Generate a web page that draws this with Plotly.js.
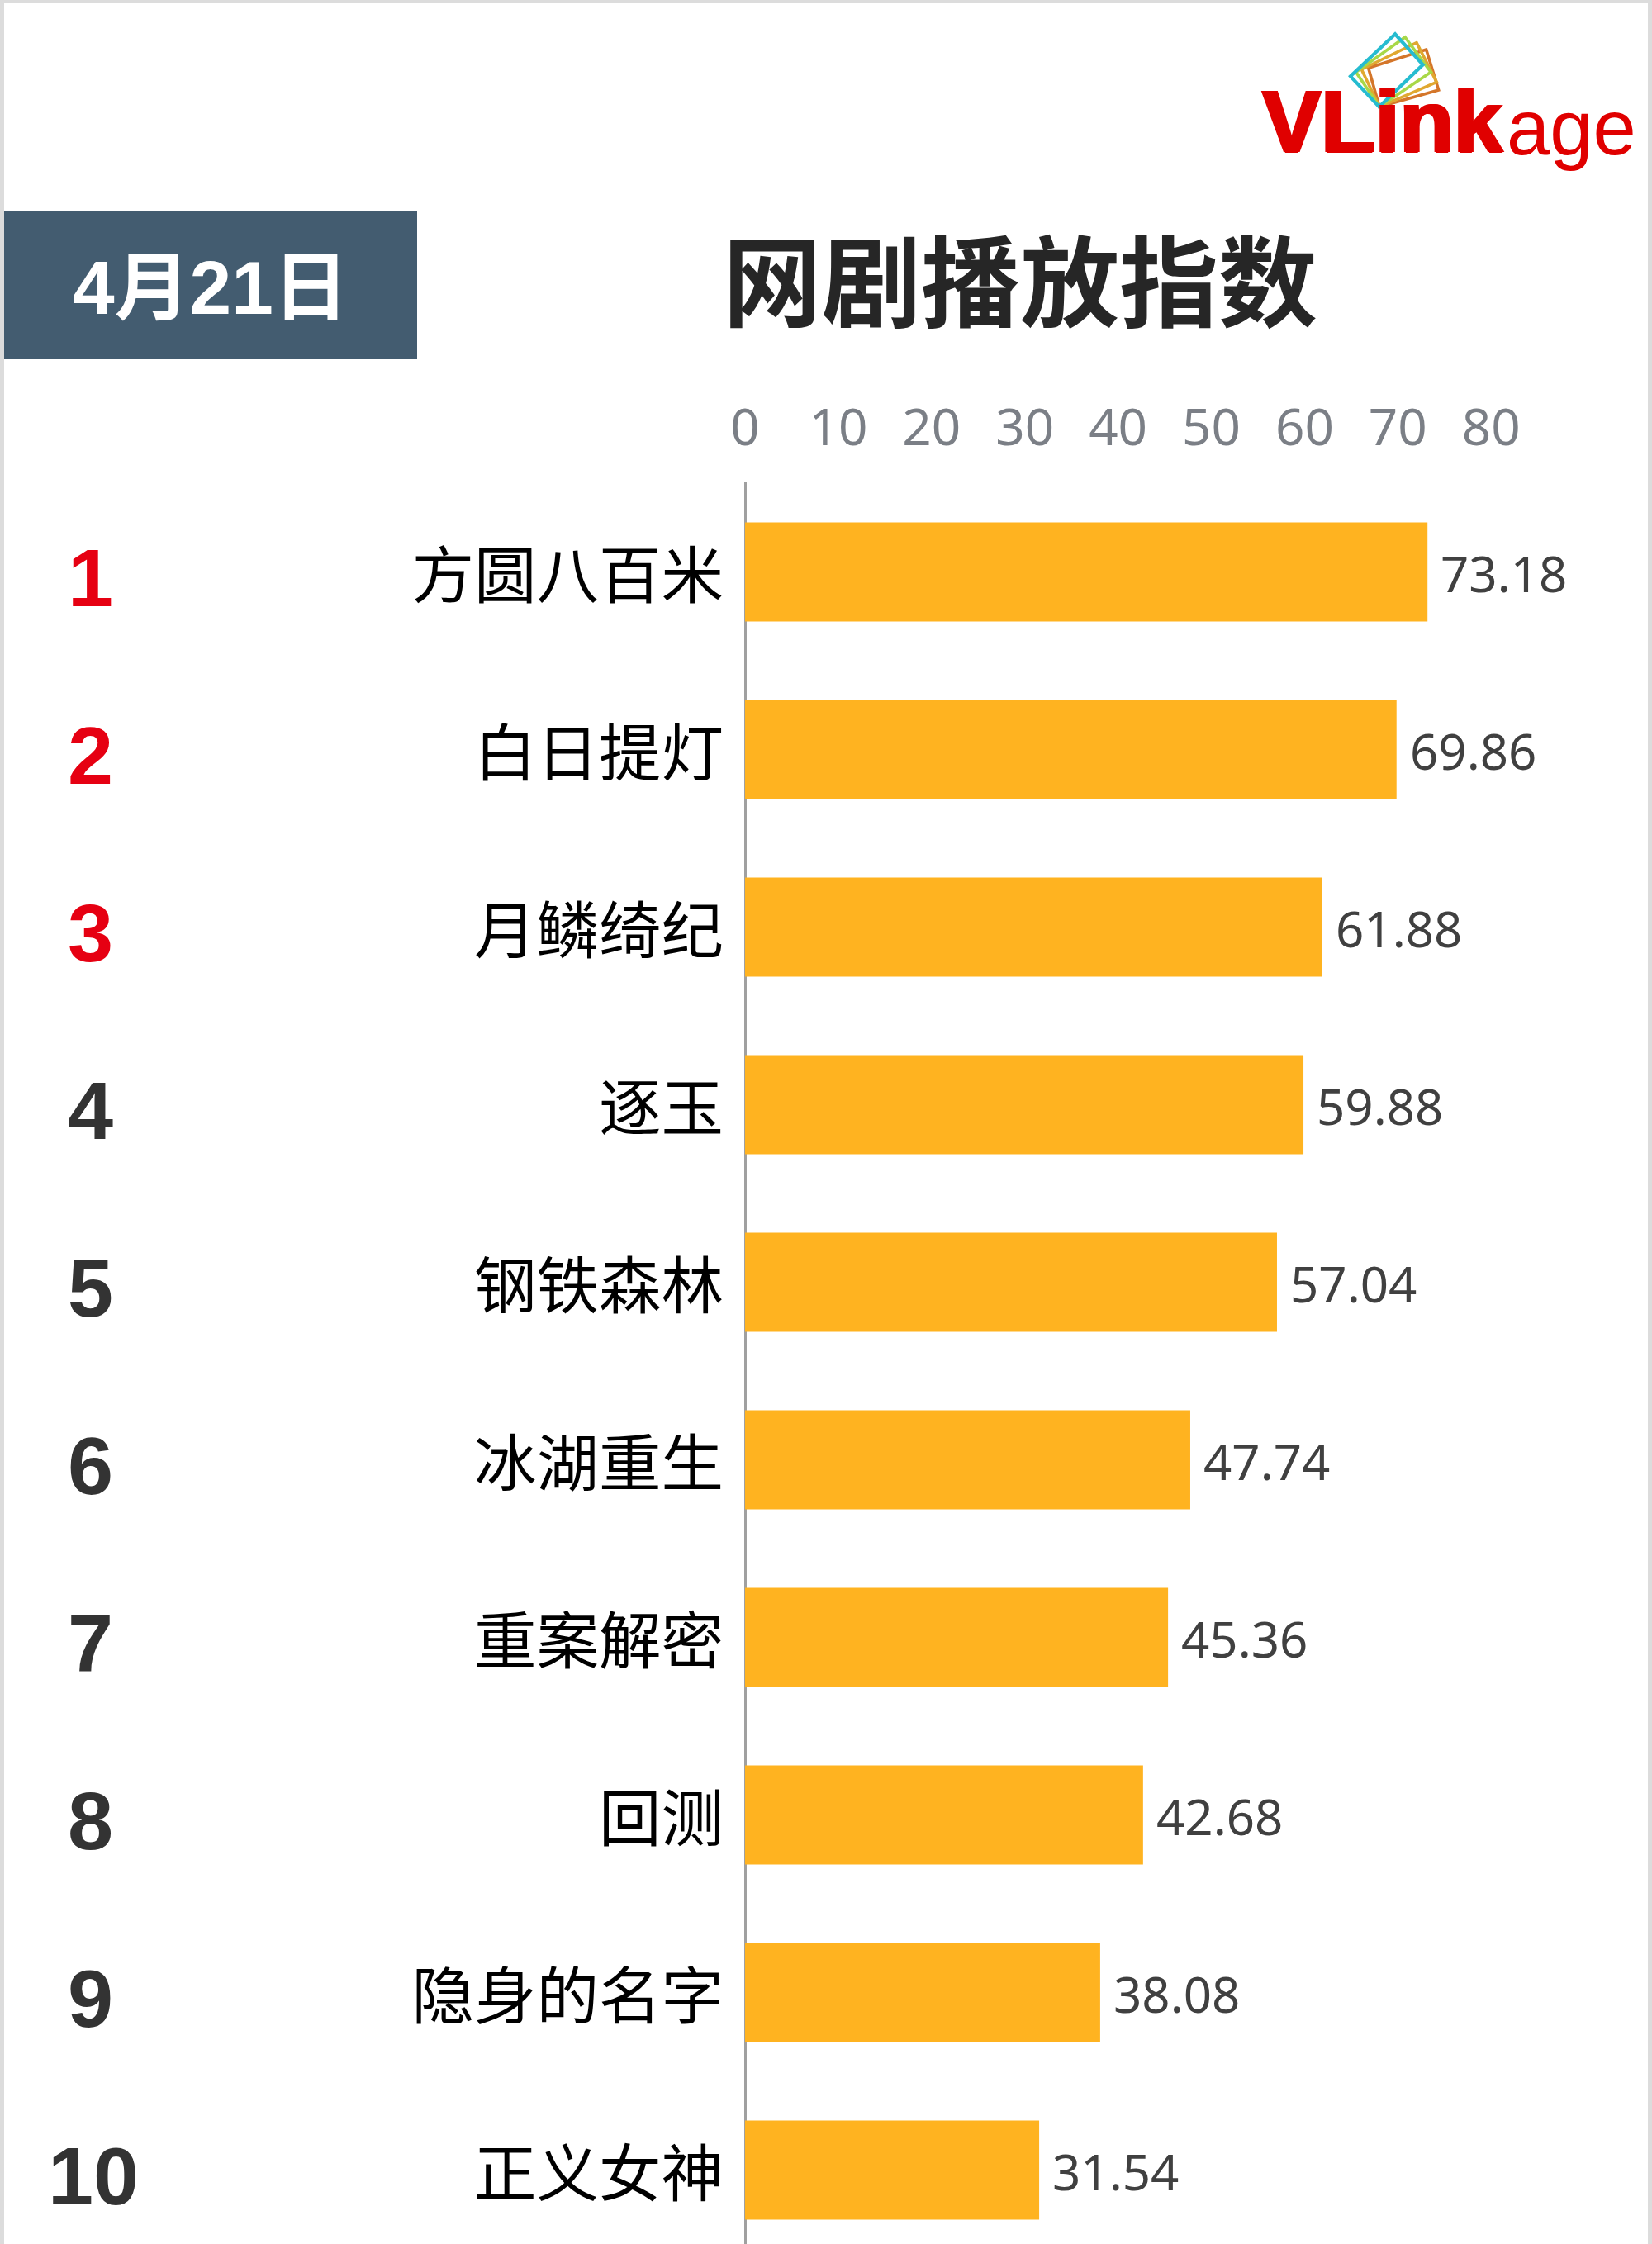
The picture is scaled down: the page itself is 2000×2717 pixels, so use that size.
<!DOCTYPE html>
<html>
<head>
<meta charset="utf-8">
<script src="https://cdn.plot.ly/plotly-3.0.1.min.js"></script>
<style>html,body{margin:0;padding:0;background:#fff}#c{width:2000px;height:2717px}</style>
</head>
<body>
<div id="c"></div>
<script>
const titles = ['方圆八百米','白日提灯','月鳞绮纪','逐玉','钢铁森林','冰湖重生','重案解密','回测','隐身的名字','正义女神'];
const values = [73.18,69.86,61.88,59.88,57.04,47.74,45.36,42.68,38.08,31.54];
const ranks = ['1','2','3','4','5','6','7','8','9','10'];
const xTicks = [0,10,20,30,40,50,60,70,80];
const chartTitle = '网剧播放指数';
const dateLabel = '4月21日';

const W = 2000, H = 2717, L = 898, T = 583, X0 = 902, UNIT = 11.29;
const px = x => (x - L) / (W - L);
const py = y => (H - y) / (H - T);
const CJK = '"Noto Sans CJK SC", "Noto Sans", sans-serif';
const ARIAL = '"Liberation Sans", Arial, sans-serif';

const rankX = r => r === '10' ? 113 : 109;
const annotations = [];
ranks.forEach((r, i) => annotations.push({
  xref:'paper', yref:'y', x:px(rankX(r)), y:titles[i], text:'<b>'+r+'</b>', showarrow:false,
  xanchor:'center', yanchor:'middle', yshift:-7,
  font:{family:ARIAL, size:99, color: i < 3 ? '#e60012' : '#333333'}
}));
values.forEach((v, i) => annotations.push({
  xref:'x', yref:'y', x:v, y:titles[i], text:v.toFixed(2), showarrow:false,
  xanchor:'left', yanchor:'middle', xshift:14, yshift:-1,
  font:{family:'"Noto Sans", sans-serif', size:60, color:'#404040'}
}));
annotations.push(
  {xref:'paper', yref:'paper', x:px(1235), y:py(335), text:chartTitle, showarrow:false, xanchor:'center', yanchor:'middle',
   font:{family:CJK, size:120, color:'#262626', weight:700}},
  {xref:'paper', yref:'paper', x:px(255), y:py(349), text:'<b>'+dateLabel+'</b>', showarrow:false, xanchor:'center', yanchor:'middle',
   font:{family:ARIAL+', "Noto Sans CJK SC"', size:91, color:'#ffffff'}},
  {xref:'paper', yref:'paper', x:px(1822), y:py(187), text:'<b>VLink</b>', showarrow:false, xanchor:'right', yanchor:'bottom', yshift:-22,
   font:{family:ARIAL, size:107, color:'#e00000', shadow:'2px 0 0 #e00000, -2px 0 0 #e00000, 0 1px 0 #e00000'}},
  {xref:'paper', yref:'paper', x:px(1822), y:py(187), text:'age', showarrow:false, xanchor:'left', yanchor:'bottom', yshift:-22,
   font:{family:ARIAL, size:94, color:'#e00000'}}
);

const poly = pts => 'M' + pts.map(p => px(1480 + p[0]/3) + ',' + py(p[1]/3)).join('L') + 'Z';
const frame = (pts, color, w) => ({type:'path', xref:'paper', yref:'paper', path:poly(pts), line:{color:color, width:w}, fillcolor:'rgba(0,0,0,0)'});
const band = (x0,y0,x1,y1,color) => ({type:'rect', xref:'paper', yref:'paper', x0:px(x0), x1:px(x1), y0:py(y0), y1:py(y1), fillcolor:color, line:{width:0}, layer:'below'});
const shapes = [
  band(0,0,2000,4,'#dcdcdc'), band(0,0,5,H,'#dcdcdc'), band(1995,0,2000,H,'#dcdcdc'),
  band(5,255,505,435,'#435c70'),
  frame([[530,247],[740,180],[785,327],[570,388]],'#d4762a',3.6),
  frame([[505,252],[705,155],[778,298],[570,388]],'#e0a830',3.6),
  frame([[485,262],[663,135],[757,262],[570,388]],'#a8d848',3.6),
  frame([[465,277],[627,124],[728,235],[569,388]],'#26bcd0',4.2)
];

Plotly.newPlot('c', [{
  type:'bar', orientation:'h', x:values, y:titles, width:0.558,
  marker:{color:'#ffb320', line:{width:0}}, hoverinfo:'x+y'
}], {
  width:W, height:H, autosize:false, showlegend:false,
  paper_bgcolor:'#ffffff', plot_bgcolor:'#ffffff',
  margin:{l:L, r:0, t:T, b:0, pad:0},
  xaxis:{side:'top', range:[(L-X0)/UNIT, (W-X0)/UNIT], tickmode:'array', tickvals:xTicks, ticktext:xTicks.map(String),
    showgrid:false, zeroline:true, zerolinecolor:'#a0a0a0', zerolinewidth:3, showline:false,
    ticks:'outside', ticklen:18, tickcolor:'rgba(0,0,0,0)',
    tickfont:{family:'"Noto Sans", sans-serif', size:62, color:'#7b7f86'}},
  yaxis:{type:'category', categoryorder:'array', categoryarray:titles, range:[(H-692.5)/215, (T-692.5)/215],
    showgrid:false, zeroline:false, showline:false,
    ticks:'outside', ticklen:6, tickcolor:'rgba(0,0,0,0)', ticklabelshift:-5,
    tickfont:{family:CJK, size:75.5, color:'#000000'}},
  annotations, shapes
}, {displayModeBar:false, staticPlot:true});
</script>
</body>
</html>
